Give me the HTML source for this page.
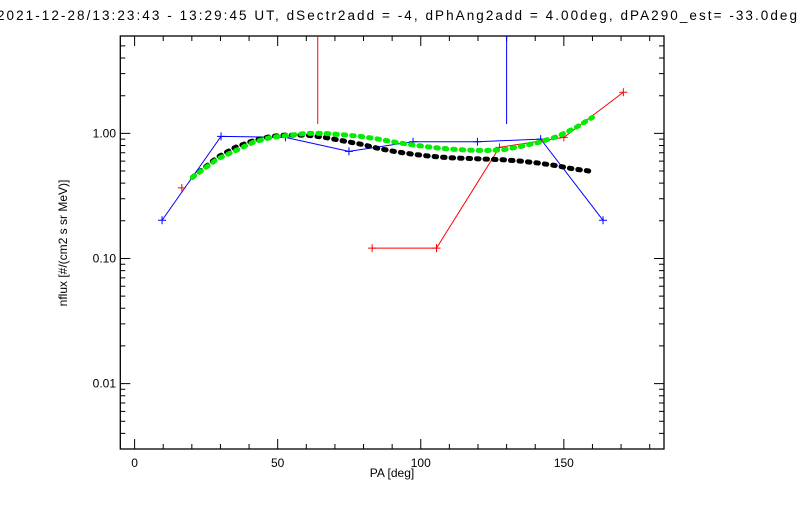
<!DOCTYPE html>
<html><head><meta charset="utf-8">
<style>
html,body{margin:0;padding:0;background:#fff;}
body{width:800px;height:500px;overflow:hidden;font-family:"Liberation Sans",sans-serif;}
svg text{font-family:"Liberation Sans",sans-serif;font-size:12px;fill:#000;}
</style></head>
<body>
<svg id="chart" width="800" height="500" viewBox="0 0 800 500" xmlns="http://www.w3.org/2000/svg">
<text x="-3" y="20" textLength="800" lengthAdjust="spacing" style="font-size:13.5px">2021-12-28/13:23:43 - 13:29:45 UT, dSectr2add = -4, dPhAng2add = 4.00deg, dPA290_est= -33.0deg</text>
<g id="axes"></g>
<g id="marks"></g>
<text x="392" y="477" text-anchor="middle">PA [deg]</text>
<text x="0" y="0" text-anchor="middle" transform="translate(67,243) rotate(-90)">nflux [#/(cm2 s sr MeV)]</text>
</svg>
<script>
const xTickValues = [0, 50, 100, 150];
const yTickValues = [1, 0.1, 0.01];
const yTickLabels = ["1.00", "0.10", "0.01"];
const curveX = [20.2,28.9,35.2,41.4,47.7,52.7,60.1,66.4,72.6,78.9,85.1,91.3,97.6,103.8,110.1,116.3,122.5,128.8,135.0,141.3,147.5,153.7,160.0];
const blackY = [0.445,0.643,0.773,0.873,0.946,0.969,0.969,0.929,0.873,0.821,0.759,0.713,0.679,0.655,0.638,0.631,0.623,0.615,0.600,0.578,0.551,0.518,0.496];
const greenY = [0.445,0.623,0.726,0.847,0.929,0.957,1.0,1.0,0.975,0.946,0.900,0.847,0.806,0.773,0.749,0.735,0.729,0.740,0.787,0.847,0.939,1.096,1.343];
const blueX = [9.6,30.2,52.7,74.9,97.3,119.8,141.9,163.7];
const blueY = [0.202,0.946,0.929,0.718,0.857,0.857,0.900,0.202];
const redX = [83.0,105.5,127.5,150.0,170.8];
const redY = [0.121,0.121,0.773,0.929,2.13];
const redLoneX = [16.5];
const redLoneY = [0.367];
const spikeX = [64.0, 130.0];
const spikeBottom = [1.187, 1.187];

const L=120.3,R=664,T=36,B=449, XMIN=-5,XMAX=185, YMIN=0.003,YMAX=6;
const NS='http://www.w3.org/2000/svg';
function sx(v){return L+(v-XMIN)/(XMAX-XMIN)*(R-L);}
function sy(v){return B-(Math.log10(v)-Math.log10(YMIN))/(Math.log10(YMAX)-Math.log10(YMIN))*(B-T);}
function mk(tag,attrs,parent){const e=document.createElementNS(NS,tag);for(const k in attrs)e.setAttribute(k,attrs[k]);parent.appendChild(e);return e;}
const ax=document.getElementById('axes'), mg=document.getElementById('marks');
const frame=mk('rect',{x:L,y:T,width:R-L,height:B-T,fill:'none',stroke:'#000','stroke-width':1.3},ax);


for(let v=0;v<=180;v+=10){
  const x=sx(v), len=(v%50===0)?10:5;
  const t=mk('path',{d:`M${x},${B}V${B-len}M${x},${T}V${T+len}`,stroke:'#000','stroke-width':1},ax);
  
  
}
xTickValues.forEach(v=>{
  const t=mk('text',{x:sx(v),y:467,'text-anchor':'middle'},ax);t.textContent=String(v);
  
  
});
for(let d=-3;d<=0;d++){for(let m=1;m<=9;m++){
  const v=m*Math.pow(10,d); if(v<YMIN||v>YMAX)continue;
  const y=sy(v), len=(m===1)?10:5;
  const t=mk('path',{d:`M${L},${y}H${L+len}M${R},${y}H${R-len}`,stroke:'#000','stroke-width':1},ax);
  
  
}}
yTickValues.forEach((v,i)=>{
  const t=mk('text',{x:116,y:sy(v)+4,'text-anchor':'end'},ax);t.textContent=yTickLabels[i];
  
  
});
function poly(xs,ys,color,name){
  const p=mk('polyline',{points:xs.map((x,i)=>sx(x)+','+sy(ys[i])).join(' '),fill:'none',stroke:color,'stroke-width':1},mg);
  
  
}
function crosses(xs,ys,color,name){
  xs.forEach((x,i)=>{const X=sx(x),Y=sy(ys[i]);
    const c=mk('path',{d:`M${X-4},${Y}H${X+4}M${X},${Y-4}V${Y+4}`,stroke:color,'stroke-width':1},mg);
    
    
  });
}
spikeX.forEach((x,i)=>{
  const s=mk('line',{x1:sx(x),x2:sx(x),y1:T,y2:sy(spikeBottom[i]),stroke:i===0?'#f00':'#00f','stroke-width':1},mg);
  
  
});
poly(blueX,blueY,'#0000ff','blue-series-line');
crosses(blueX,blueY,'#0000ff','blue-point');
poly(redX,redY,'#ff0000','red-series-line');
crosses(redX,redY,'#ff0000','red-point');
crosses(redLoneX,redLoneY,'#ff0000','red-point');
function dotted(xs,ys,color,name){
  const p=mk('polyline',{points:xs.map((x,i)=>sx(x)+','+sy(ys[i])).join(' '),fill:'none',stroke:color,'stroke-width':5,'stroke-linecap':'round','stroke-dasharray':'2.5 6'},mg);
  
  
}
dotted(curveX,blackY,'#000000','black-model-curve');
dotted(curveX,greenY,'#00ee00','green-model-curve');
</script>
</body></html>
